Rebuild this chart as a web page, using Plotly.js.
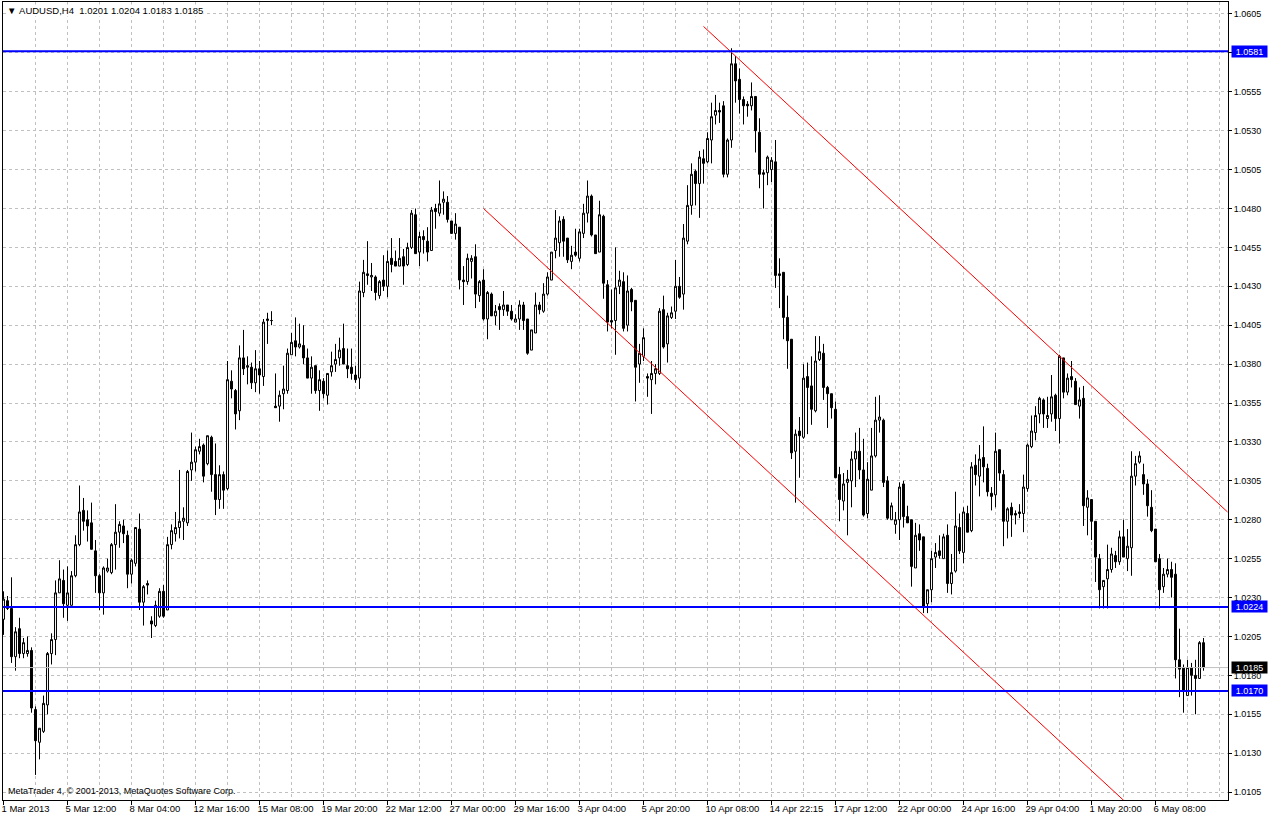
<!DOCTYPE html>
<html>
<head>
<meta charset="utf-8">
<script src="https://cdn.plot.ly/plotly-3.0.1.min.js"></script>
<style>html,body{margin:0;padding:0;background:#fff;}#chart{width:1268px;height:818px;}</style>
</head>
<body>
<div id="chart"></div>
<script>
const symbolTitle = "AUDUSD,H4";
const lastBar = ["1.0201", "1.0204", "1.0183", "1.0185"];
const copyrightText = "MetaTrader 4, \u00a9 2001-2013, MetaQuotes Software Corp.";

const openP = [
1.0216,1.0228,1.0223,1.0192,1.0210,1.0194,1.0194,1.0196,1.0158,1.0137,
1.0144,1.0161,1.0194,1.0203,1.0233,1.0241,1.0225,1.0225,1.0244,1.0264,
1.0286,1.0280,1.0278,1.0260,1.0244,1.0233,1.0247,1.0246,1.0264,1.0272,
1.0276,1.0270,1.0245,1.0252,1.0274,1.0227,1.0239,1.0215,1.0212,1.0218,
1.0234,1.0222,1.0264,1.0271,1.0275,1.0279,1.0278,1.0312,1.0317,1.0324,
1.0328,1.0316,1.0333,1.0309,1.0293,1.0309,1.0300,1.0369,1.0363,1.0350,
1.0384,1.0378,1.0378,1.0368,1.0377,1.0372,1.0408,1.0408,1.0353,1.0353,
1.0361,1.0363,1.0386,1.0395,1.0391,1.0392,1.0384,1.0371,1.0379,1.0363,
1.0369,1.0360,1.0375,1.0380,1.0384,1.0390,1.0379,1.0378,1.0373,1.0371,
1.0426,1.0438,1.0436,1.0436,1.0424,1.0434,1.0430,1.0448,1.0446,1.0443,
1.0449,1.0444,1.0455,1.0476,1.0452,1.0462,1.0459,1.0453,1.0480,1.0477,
1.0484,1.0484,1.0472,1.0464,1.0468,1.0434,1.0433,1.0446,1.0449,1.0424,
1.0434,1.0409,1.0425,1.0411,1.0417,1.0415,1.0418,1.0414,1.0407,1.0409,
1.0418,1.0409,1.0389,1.0400,1.0418,1.0414,1.0425,1.0434,1.0453,1.0458,
1.0473,1.0461,1.0446,1.0452,1.0448,1.0464,1.0477,1.0488,1.0463,1.0452,
1.0475,1.0431,1.0408,1.0408,1.0430,1.0433,1.0405,1.0428,1.0421,1.0380,
1.0385,1.0372,1.0370,1.0374,1.0374,1.0415,1.0393,1.0410,1.0414,1.0430,
1.0425,1.0459,1.0482,1.0504,1.0496,1.0512,1.0510,1.0524,1.0540,1.0543,
1.0546,1.0502,1.0524,1.0573,1.0563,1.0550,1.0547,1.0546,1.0552,1.0529,
1.0503,1.0503,1.0505,1.0510,1.0438,1.0439,1.0410,1.0396,1.0324,1.0337,
1.0333,1.0372,1.0366,1.0350,1.0383,1.0387,1.0365,1.0361,1.0351,1.0309,
1.0292,1.0304,1.0305,1.0319,1.0324,1.0312,1.0284,1.0299,1.0321,1.0344,
1.0344,1.0305,1.0280,1.0277,1.0280,1.0303,1.0282,1.0280,1.0249,1.0271,
1.0269,1.0226,1.0235,1.0256,1.0260,1.0255,1.0270,1.0239,1.0247,1.0275,
1.0259,1.0284,1.0273,1.0315,1.0308,1.0320,1.0313,1.0297,1.0296,1.0325,
1.0309,1.0279,1.0288,1.0284,1.0285,1.0284,1.0300,1.0327,1.0336,1.0348,
1.0357,1.0345,1.0348,1.0360,1.0345,1.0384,1.0362,1.0372,1.0369,1.0353,
1.0358,1.0288,1.0293,1.0279,1.0255,1.0237,1.0242,1.0248,1.0257,1.0253,
1.0269,1.0255,1.0262,1.0308,1.0317,1.0309,1.0303,1.0288,1.0274,1.0255,
1.0237,1.0245,1.0248,1.0245,1.0190,1.0185,1.0167,1.0185,1.0180,1.0178,1.0201
];
const highP = [
1.0234,1.0231,1.0243,1.0211,1.0217,1.0204,1.0205,1.0198,1.0160,1.0146,
1.0167,1.0195,1.0207,1.0241,1.0254,1.0248,1.0250,1.0247,1.0270,1.0302,
1.0294,1.0286,1.0291,1.0267,1.0245,1.0250,1.0255,1.0265,1.0290,1.0279,
1.0280,1.0273,1.0255,1.0275,1.0284,1.0238,1.0241,1.0218,1.0228,1.0236,
1.0238,1.0269,1.0277,1.0285,1.0312,1.0288,1.0312,1.0336,1.0327,1.0332,
1.0329,1.0334,1.0334,1.0329,1.0315,1.0311,1.0382,1.0376,1.0364,1.0392,
1.0402,1.0385,1.0381,1.0389,1.0382,1.0409,1.0413,1.0414,1.0374,1.0363,
1.0379,1.0390,1.0400,1.0410,1.0406,1.0405,1.0390,1.0385,1.0379,1.0376,
1.0371,1.0374,1.0388,1.0393,1.0397,1.0406,1.0390,1.0390,1.0379,1.0433,
1.0447,1.0459,1.0445,1.0437,1.0434,1.0450,1.0453,1.0461,1.0453,1.0461,
1.0454,1.0458,1.0479,1.0480,1.0465,1.0466,1.0468,1.0481,1.0483,1.0498,
1.0491,1.0488,1.0472,1.0477,1.0468,1.0443,1.0451,1.0450,1.0457,1.0434,
1.0441,1.0427,1.0426,1.0418,1.0419,1.0427,1.0418,1.0418,1.0412,1.0421,
1.0420,1.0409,1.0402,1.0426,1.0420,1.0432,1.0439,1.0452,1.0479,1.0475,
1.0475,1.0461,1.0456,1.0467,1.0467,1.0483,1.0498,1.0489,1.0463,1.0485,
1.0476,1.0434,1.0428,1.0455,1.0440,1.0439,1.0437,1.0429,1.0421,1.0393,
1.0403,1.0374,1.0382,1.0380,1.0416,1.0424,1.0413,1.0417,1.0447,1.0436,
1.0470,1.0495,1.0509,1.0505,1.0517,1.0518,1.0529,1.0548,1.0553,1.0548,
1.0549,1.0525,1.0583,1.0578,1.0570,1.0552,1.0549,1.0561,1.0552,1.0538,
1.0505,1.0514,1.0513,1.0524,1.0448,1.0439,1.0424,1.0396,1.0338,1.0346,
1.0380,1.0381,1.0385,1.0398,1.0398,1.0393,1.0366,1.0361,1.0356,1.0314,
1.0310,1.0312,1.0324,1.0336,1.0339,1.0332,1.0317,1.0339,1.0359,1.0360,
1.0345,1.0308,1.0291,1.0285,1.0304,1.0305,1.0289,1.0280,1.0278,1.0277,
1.0269,1.0235,1.0260,1.0265,1.0270,1.0271,1.0277,1.0258,1.0298,1.0284,
1.0288,1.0289,1.0317,1.0322,1.0328,1.0340,1.0316,1.0301,1.0336,1.0325,
1.0312,1.0288,1.0291,1.0286,1.0290,1.0309,1.0329,1.0347,1.0353,1.0359,
1.0358,1.0359,1.0373,1.0361,1.0386,1.0384,1.0374,1.0382,1.0371,1.0365,
1.0366,1.0299,1.0293,1.0279,1.0258,1.0241,1.0264,1.0262,1.0260,1.0273,
1.0280,1.0274,1.0324,1.0321,1.0324,1.0316,1.0306,1.0299,1.0274,1.0258,
1.0249,1.0255,1.0253,1.0252,1.0210,1.0187,1.0190,1.0188,1.0190,1.0202,1.0204
];
const lowP = [
1.0206,1.0222,1.0188,1.0183,1.0191,1.0191,1.0192,1.0156,1.0116,1.0126,
1.0143,1.0155,1.0187,1.0193,1.0233,1.0217,1.0215,1.0225,1.0243,1.0263,
1.0273,1.0266,1.0261,1.0233,1.0222,1.0219,1.0246,1.0245,1.0248,1.0262,
1.0265,1.0236,1.0239,1.0250,1.0222,1.0212,1.0232,1.0204,1.0211,1.0217,
1.0217,1.0222,1.0261,1.0266,1.0268,1.0267,1.0276,1.0305,1.0311,1.0322,
1.0304,1.0315,1.0298,1.0283,1.0287,1.0287,1.0299,1.0358,1.0338,1.0344,
1.0373,1.0367,1.0364,1.0362,1.0361,1.0366,1.0393,1.0405,1.0352,1.0343,
1.0351,1.0361,1.0386,1.0385,1.0390,1.0380,1.0371,1.0361,1.0361,1.0350,
1.0358,1.0354,1.0372,1.0375,1.0379,1.0380,1.0371,1.0370,1.0368,1.0364,
1.0423,1.0431,1.0427,1.0421,1.0422,1.0427,1.0423,1.0439,1.0443,1.0443,
1.0431,1.0443,1.0454,1.0451,1.0443,1.0451,1.0446,1.0453,1.0467,1.0475,
1.0476,1.0471,1.0464,1.0460,1.0428,1.0418,1.0431,1.0435,1.0416,1.0420,
1.0408,1.0396,1.0411,1.0405,1.0402,1.0411,1.0411,1.0408,1.0407,1.0402,
1.0402,1.0386,1.0389,1.0400,1.0412,1.0413,1.0424,1.0434,1.0448,1.0449,
1.0449,1.0445,1.0441,1.0449,1.0446,1.0461,1.0471,1.0462,1.0451,1.0452,
1.0422,1.0401,1.0403,1.0386,1.0425,1.0401,1.0401,1.0414,1.0356,1.0368,
1.0382,1.0359,1.0348,1.0367,1.0373,1.0390,1.0381,1.0409,1.0409,1.0422,
1.0415,1.0457,1.0476,1.0482,1.0474,1.0496,1.0509,1.0509,1.0534,1.0535,
1.0500,1.0500,1.0519,1.0548,1.0541,1.0534,1.0539,1.0543,1.0516,1.0493,
1.0480,1.0495,1.0497,1.0429,1.0416,1.0396,1.0377,1.0319,1.0291,1.0307,
1.0332,1.0335,1.0341,1.0349,1.0382,1.0357,1.0339,1.0345,1.0307,1.0279,
1.0286,1.0270,1.0288,1.0301,1.0306,1.0282,1.0281,1.0299,1.0320,1.0336,
1.0301,1.0280,1.0280,1.0271,1.0267,1.0275,1.0278,1.0237,1.0249,1.0260,
1.0220,1.0220,1.0227,1.0249,1.0255,1.0255,1.0233,1.0232,1.0246,1.0258,
1.0252,1.0272,1.0272,1.0302,1.0295,1.0304,1.0295,1.0286,1.0288,1.0305,
1.0263,1.0268,1.0269,1.0277,1.0281,1.0272,1.0298,1.0326,1.0331,1.0342,
1.0339,1.0339,1.0343,1.0337,1.0329,1.0358,1.0360,1.0365,1.0354,1.0345,
1.0276,1.0270,1.0267,1.0240,1.0223,1.0223,1.0223,1.0246,1.0249,1.0251,
1.0256,1.0247,1.0244,1.0302,1.0316,1.0296,1.0282,1.0272,1.0253,1.0223,
1.0233,1.0243,1.0230,1.0178,1.0166,1.0156,1.0167,1.0167,1.0155,1.0178,1.0183
];
const closeP = [
1.0229,1.0223,1.0192,1.0208,1.0194,1.0201,1.0196,1.0159,1.0138,1.0146,
1.0162,1.0194,1.0203,1.0233,1.0242,1.0226,1.0233,1.0244,1.0264,1.0285,
1.0279,1.0276,1.0261,1.0244,1.0233,1.0249,1.0249,1.0264,1.0272,1.0277,
1.0271,1.0245,1.0254,1.0275,1.0227,1.0237,1.0238,1.0213,1.0225,1.0234,
1.0218,1.0264,1.0273,1.0275,1.0279,1.0281,1.0311,1.0317,1.0325,1.0327,
1.0308,1.0334,1.0309,1.0293,1.0309,1.0299,1.0370,1.0364,1.0348,1.0384,
1.0377,1.0379,1.0368,1.0377,1.0373,1.0407,1.0409,1.0408,1.0352,1.0360,
1.0364,1.0387,1.0394,1.0391,1.0393,1.0384,1.0371,1.0378,1.0363,1.0370,
1.0361,1.0374,1.0379,1.0383,1.0389,1.0380,1.0377,1.0374,1.0370,1.0427,
1.0439,1.0437,1.0437,1.0426,1.0433,1.0430,1.0446,1.0444,1.0443,1.0448,
1.0443,1.0455,1.0477,1.0451,1.0462,1.0460,1.0452,1.0479,1.0478,1.0483,
1.0486,1.0473,1.0464,1.0470,1.0434,1.0433,1.0448,1.0448,1.0425,1.0433,
1.0409,1.0426,1.0411,1.0414,1.0415,1.0418,1.0414,1.0409,1.0409,1.0418,
1.0408,1.0387,1.0402,1.0418,1.0415,1.0425,1.0436,1.0452,1.0461,1.0472,
1.0459,1.0447,1.0450,1.0450,1.0465,1.0477,1.0488,1.0463,1.0451,1.0476,
1.0432,1.0407,1.0407,1.0429,1.0434,1.0403,1.0427,1.0420,1.0378,1.0387,
1.0397,1.0371,1.0374,1.0377,1.0414,1.0391,1.0411,1.0413,1.0430,1.0423,
1.0461,1.0482,1.0502,1.0496,1.0513,1.0509,1.0525,1.0539,1.0543,1.0542,
1.0502,1.0524,1.0573,1.0562,1.0550,1.0546,1.0546,1.0552,1.0530,1.0502,
1.0502,1.0513,1.0511,1.0437,1.0437,1.0410,1.0395,1.0323,1.0335,1.0334,
1.0371,1.0365,1.0351,1.0382,1.0388,1.0365,1.0361,1.0352,1.0307,1.0293,
1.0303,1.0306,1.0319,1.0324,1.0312,1.0283,1.0306,1.0321,1.0344,1.0346,
1.0304,1.0281,1.0289,1.0280,1.0301,1.0282,1.0278,1.0250,1.0270,1.0267,
1.0224,1.0235,1.0255,1.0259,1.0257,1.0269,1.0239,1.0246,1.0276,1.0260,
1.0285,1.0272,1.0314,1.0309,1.0319,1.0314,1.0298,1.0295,1.0324,1.0310,
1.0279,1.0287,1.0283,1.0283,1.0284,1.0301,1.0328,1.0337,1.0347,1.0358,
1.0348,1.0347,1.0359,1.0345,1.0385,1.0362,1.0371,1.0370,1.0354,1.0357,
1.0289,1.0294,1.0279,1.0256,1.0235,1.0241,1.0248,1.0258,1.0253,1.0269,
1.0256,1.0263,1.0308,1.0316,1.0321,1.0303,1.0289,1.0273,1.0253,1.0235,
1.0245,1.0248,1.0243,1.0190,1.0184,1.0170,1.0185,1.0180,1.0178,1.0201,1.0185
];

const dateTickIdx = [0,16,32,48,64,80,96,112,128,144,160,176,192,208,224,240,256,272,288];
const dateTickLabels = ["1 Mar 2013","5 Mar 12:00","8 Mar 04:00","12 Mar 16:00","15 Mar 08:00",
  "19 Mar 20:00","22 Mar 12:00","27 Mar 00:00","29 Mar 16:00","3 Apr 04:00","5 Apr 20:00",
  "10 Apr 08:00","14 Apr 22:15","17 Apr 12:00","22 Apr 00:00","24 Apr 16:00","29 Apr 04:00",
  "1 May 20:00","6 May 08:00"];

const hLevels = [1.0581, 1.0224, 1.0170];
const bidLevel = 1.0185;

const trendUpperX = [175, 306];
const trendUpperY = [1.0597, 1.0285];
const trendLowerX = [120, 290];
const trendLowerY = [1.0480, 1.0076];

const barIdx = openP.map((_, i) => i);

const candle = {
  type: 'candlestick',
  x: barIdx, open: openP, high: highP, low: lowP, close: closeP,
  increasing: {line: {color: '#000000', width: 1}, fillcolor: '#ffffff'},
  decreasing: {line: {color: '#000000', width: 1}, fillcolor: '#000000'},
  whiskerwidth: 0,
  hoverinfo: 'skip',
  showlegend: false
};
const upLine = {type: 'scatter', mode: 'lines', x: trendUpperX, y: trendUpperY,
  line: {color: '#ff0000', width: 1}, hoverinfo: 'skip', showlegend: false};
const lowLine = {type: 'scatter', mode: 'lines', x: trendLowerX, y: trendLowerY,
  line: {color: '#ff0000', width: 1}, hoverinfo: 'skip', showlegend: false};

const shapes = [];
shapes.push({type: 'line', xref: 'paper', x0: 0, x1: 1, yref: 'y', y0: bidLevel, y1: bidLevel,
  line: {color: '#c0c0c0', width: 1}, layer: 'above'});
hLevels.forEach(v => shapes.push({type: 'line', xref: 'paper', x0: 0, x1: 1, yref: 'y', y0: v, y1: v,
  line: {color: '#0000ff', width: 2}, layer: 'above'}));

const font = 'Liberation Sans, Arial, DejaVu Sans, sans-serif';
const annotations = [];
annotations.push({xref: 'paper', yref: 'paper', x: 0, y: 1, xanchor: 'left', yanchor: 'top',
  xshift: 3, yshift: -2, showarrow: false, bgcolor: '#ffffff', borderpad: 0,
  text: '\u25BC\u00a0' + symbolTitle + '\u00a0\u00a0' + lastBar.join('\u00a0'),
  font: {family: font, size: 9.5, color: '#000'}});
annotations.push({xref: 'paper', yref: 'paper', x: 0, y: 0, xanchor: 'left', yanchor: 'bottom',
  xshift: 3, yshift: 2, showarrow: false, text: copyrightText,
  font: {family: font, size: 9, color: '#000'}});
hLevels.forEach(v => annotations.push({xref: 'paper', yref: 'y', x: 1, y: v, xanchor: 'left', yanchor: 'middle',
  xshift: 3, showarrow: false, text: v.toFixed(4), bgcolor: '#0000ff', borderpad: 0, width: 35, height: 11,
  font: {family: font, size: 9, color: '#ffffff'}}));
annotations.push({xref: 'paper', yref: 'y', x: 1, y: bidLevel, xanchor: 'left', yanchor: 'middle',
  xshift: 3, showarrow: false, text: bidLevel.toFixed(4), bgcolor: '#000000', borderpad: 0, width: 35, height: 11,
  font: {family: font, size: 9, color: '#ffffff'}});

const gridDash = '3px,3px';
const layout = {
  width: 1268, height: 818,
  margin: {l: 3, r: 40, t: 2, b: 18, pad: 0},
  paper_bgcolor: '#ffffff', plot_bgcolor: '#ffffff',
  showlegend: false, hovermode: false,
  font: {family: font, size: 9, color: '#000000'},
  xaxis: {
    type: 'linear', range: [-0.125, 306.125], fixedrange: true,
    rangeslider: {visible: false},
    tickmode: 'array', tickvals: dateTickIdx, ticktext: dateTickLabels,
    tickangle: 0, automargin: false,
    ticks: 'outside', ticklen: 4, tickwidth: 1, tickcolor: '#000',
    ticklabelposition: 'outside right', ticklabelshift: -3,
    tickfont: {family: font, size: 9.5, color: '#000'},
    showgrid: true, gridcolor: '#c0c0c0', gridwidth: 1, griddash: gridDash,
    minor: {tickmode: 'linear', tick0: 0, dtick: 8, showgrid: true, gridcolor: '#c0c0c0', gridwidth: 1, griddash: gridDash, ticks: ''},
    showline: true, linecolor: '#000', linewidth: 1, mirror: true, zeroline: false
  },
  yaxis: {
    side: 'right', range: [1.00999, 1.06127], fixedrange: true, automargin: false,
    tickmode: 'linear', tick0: 1.0105, dtick: 0.0025, tickformat: '.4f',
    ticks: 'outside', ticklen: 3, tickwidth: 1, tickcolor: '#000',
    tickfont: {family: font, size: 9, color: '#000'},
    showgrid: true, gridcolor: '#c0c0c0', gridwidth: 1, griddash: gridDash,
    showline: true, linecolor: '#000', linewidth: 1, mirror: true, zeroline: false
  },
  shapes: shapes,
  annotations: annotations
};

Plotly.newPlot('chart', [candle, upLine, lowLine], layout, {staticPlot: true, displayModeBar: false});
</script>
</body>
</html>
